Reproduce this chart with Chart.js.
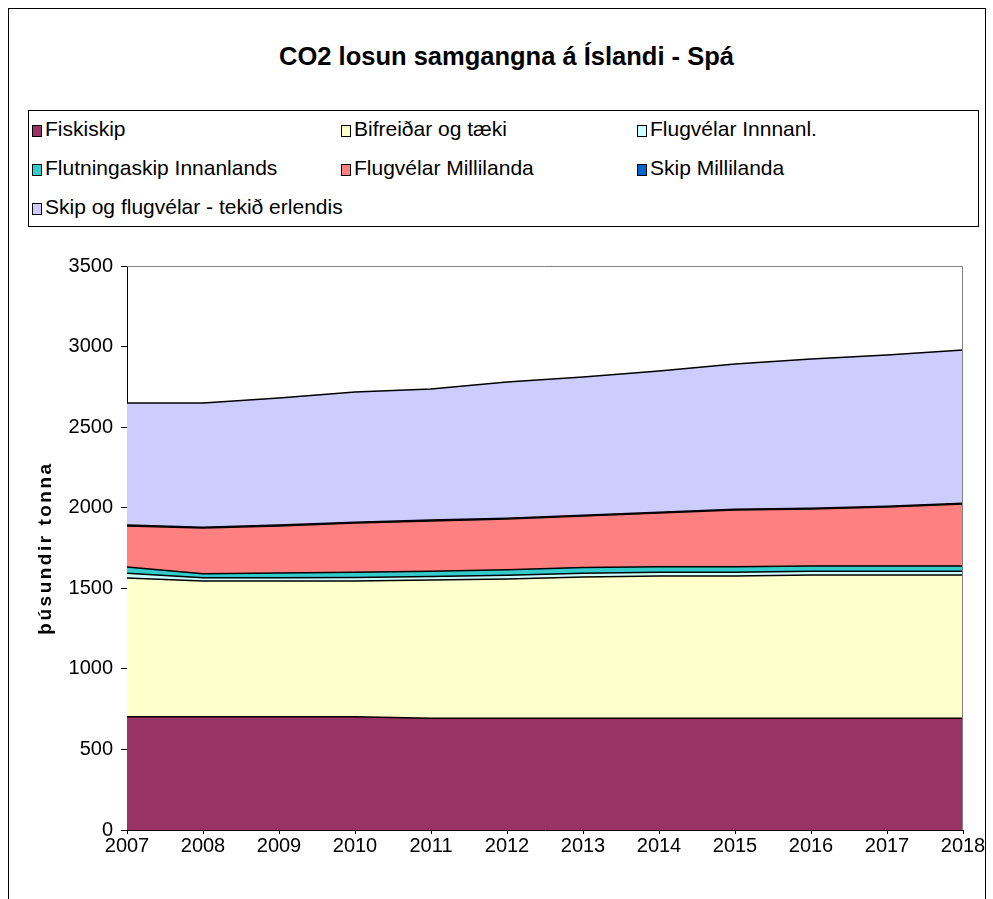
<!DOCTYPE html>
<html>
<head>
    <meta charset="utf-8">
    <title>CO2 losun samgangna á Íslandi - Spá</title>
    <script src="https://cdn.jsdelivr.net/npm/chart.js@4.4.0/dist/chart.umd.min.js"></script>
    <style>
        body {
            margin: 0;
            background: #fff;
            font-family: "Liberation Sans", Arial, sans-serif;
        }
        #frame {
            position: absolute;
            left: 8px;
            top: 8px;
            width: 976px;
            height: 920px;
            border: 1px solid #000;
            border-bottom: none;
        }
        #title {
            position: absolute;
            left: 10px;
            top: 42px;
            width: 993px;
            text-align: center;
            font-weight: bold;
            font-size: 25.5px;
        }
        #legend {
            position: absolute;
            left: 28px;
            top: 110px;
            width: 949px;
            height: 115px;
            border: 1px solid #000;
        }
        .item {
            position: absolute;
            font-size: 21px;
            line-height: 24px;
            white-space: nowrap;
        }
        .box {
            display: inline-block;
            width: 8px;
            height: 10px;
            border: 1px solid #000;
            margin-right: 3px;
            vertical-align: -1px;
        }
        #chart-container {
            position: absolute;
            left: 0;
            top: 246px;
            width: 993px;
            height: 624px;
        }
    </style>
</head>
<body>
    <div id="frame"></div>
    <div id="title">CO2 losun samgangna á Íslandi - Spá</div>
    <div id="legend"></div>
    <div id="chart-container">
        <canvas id="co2Chart" width="993" height="624"></canvas>
    </div>
    <script>
        const years = ['2007', '2008', '2009', '2010', '2011', '2012', '2013', '2014', '2015', '2016', '2017', '2018'];
        const yTicks = [0, 500, 1000, 1500, 2000, 2500, 3000, 3500];

        // þúsundir tonna
        const fiskiskip     = [703, 703, 703, 703, 693, 693, 693, 693, 693, 693, 693, 693];
        const bifreidar     = [861, 842, 842, 842, 858, 865, 877, 883, 883, 889, 889, 889];
        const flugInnanl    = [30, 20, 21, 22, 22, 23, 24, 24, 24, 24, 24, 24];
        const flutningaskip = [38, 25, 29, 33, 33, 34, 35, 34, 34, 33, 32, 32];
        const flugMilli     = [255, 284, 292, 305, 312, 315, 320, 333, 352, 353, 366, 385];
        const skipMilli     = [5, 5, 5, 5, 5, 5, 5, 5, 5, 5, 5, 5];
        const erlendis      = [758, 771, 789, 808, 814, 845, 857, 876, 901, 926, 939, 951];

        const seriesNames = ['Fiskiskip', 'Bifreiðar og tæki', 'Flugvélar Innnanl.', 'Flutningaskip Innanlands',
            'Flugvélar Millilanda', 'Skip Millilanda', 'Skip og flugvélar - tekið erlendis'];
        const seriesData = [fiskiskip, bifreidar, flugInnanl, flutningaskip, flugMilli, skipMilli, erlendis];
        const seriesColors = ['#993366', '#FFFFCC', '#CCFFFF', '#33CCCC', '#FF8080', '#0066CC', '#CCCCFF'];

        const datasets = seriesNames.map((name, i) => ({
            label: name,
            data: seriesData[i],
            backgroundColor: seriesColors[i],
            borderColor: '#000',
            borderWidth: 1.5,
            pointRadius: 0,
            tension: 0,
            fill: i === 0 ? 'origin' : '-1'
        }));

        // legend in the three column layout of the original
        const legend = document.getElementById('legend');
        const colX = [3, 312, 608];
        const rowY = [6, 45, 84];
        datasets.forEach((ds, i) => {
            const el = document.createElement('div');
            el.className = 'item';
            el.style.left = colX[i % 3] + 'px';
            el.style.top = rowY[Math.floor(i / 3)] + 'px';
            el.innerHTML = '<span class="box" style="background:' + ds.backgroundColor + '"></span>' + ds.label;
            legend.appendChild(el);
        });

        const plotFrame = {
            id: 'plotFrame',
            afterDatasetsDraw(chart) {
                const a = chart.chartArea;
                const ctx = chart.ctx;
                ctx.save();
                ctx.strokeStyle = '#808080';
                ctx.lineWidth = 1;
                ctx.beginPath();
                ctx.moveTo(a.left, a.top + 0.5);
                ctx.lineTo(a.right - 0.5, a.top + 0.5);
                ctx.lineTo(a.right - 0.5, a.bottom);
                ctx.stroke();
                ctx.restore();
            },
            afterDraw(chart) {
                const a = chart.chartArea;
                const ctx = chart.ctx;
                ctx.save();
                ctx.translate(46, (a.top + a.bottom) / 2);
                ctx.rotate(-Math.PI / 2);
                ctx.font = 'bold 19px "Liberation Sans", Arial, sans-serif';
                ctx.letterSpacing = '2.5px';
                ctx.fillStyle = '#000';
                ctx.textAlign = 'center';
                ctx.textBaseline = 'middle';
                ctx.fillText('þúsundir tonna', 0, 0);
                ctx.restore();
            }
        };

        const ctx = document.getElementById('co2Chart').getContext('2d');
        new Chart(ctx, {
            type: 'line',
            data: { labels: years, datasets: datasets },
            options: {
                responsive: false,
                animation: false,
                layout: { padding: { top: 12, right: 30, left: 0, bottom: 0 } },
                plugins: {
                    legend: { display: false },
                    tooltip: { enabled: false },
                    filler: { propagate: false }
                },
                scales: {
                    x: {
                        offset: false,
                        grid: { display: true, drawOnChartArea: false, drawTicks: true, tickLength: 4, color: '#000' },
                        border: { color: '#000', width: 1 },
                        ticks: {
                            color: '#000',
                            font: { size: 20, family: '"Liberation Sans", Arial, sans-serif' },
                            maxRotation: 0,
                            autoSkip: false,
                            padding: 0
                        },
                        afterFit: (s) => { s.height = 40; }
                    },
                    y: {
                        stacked: true,
                        min: 0,
                        max: 3500,
                        grid: { display: true, drawOnChartArea: false, drawTicks: true, tickLength: 6, color: '#000' },
                        border: { color: '#000', width: 1 },
                        afterBuildTicks: (s) => { s.ticks = yTicks.map(v => ({ value: v })); },
                        ticks: {
                            color: '#000',
                            font: { size: 20, family: '"Liberation Sans", Arial, sans-serif' },
                            padding: 8,
                            callback: (v) => String(v)
                        },
                        afterFit: (s) => { s.width = 127; }
                    }
                }
            },
            plugins: [plotFrame]
        });
    </script>
</body>
</html>
